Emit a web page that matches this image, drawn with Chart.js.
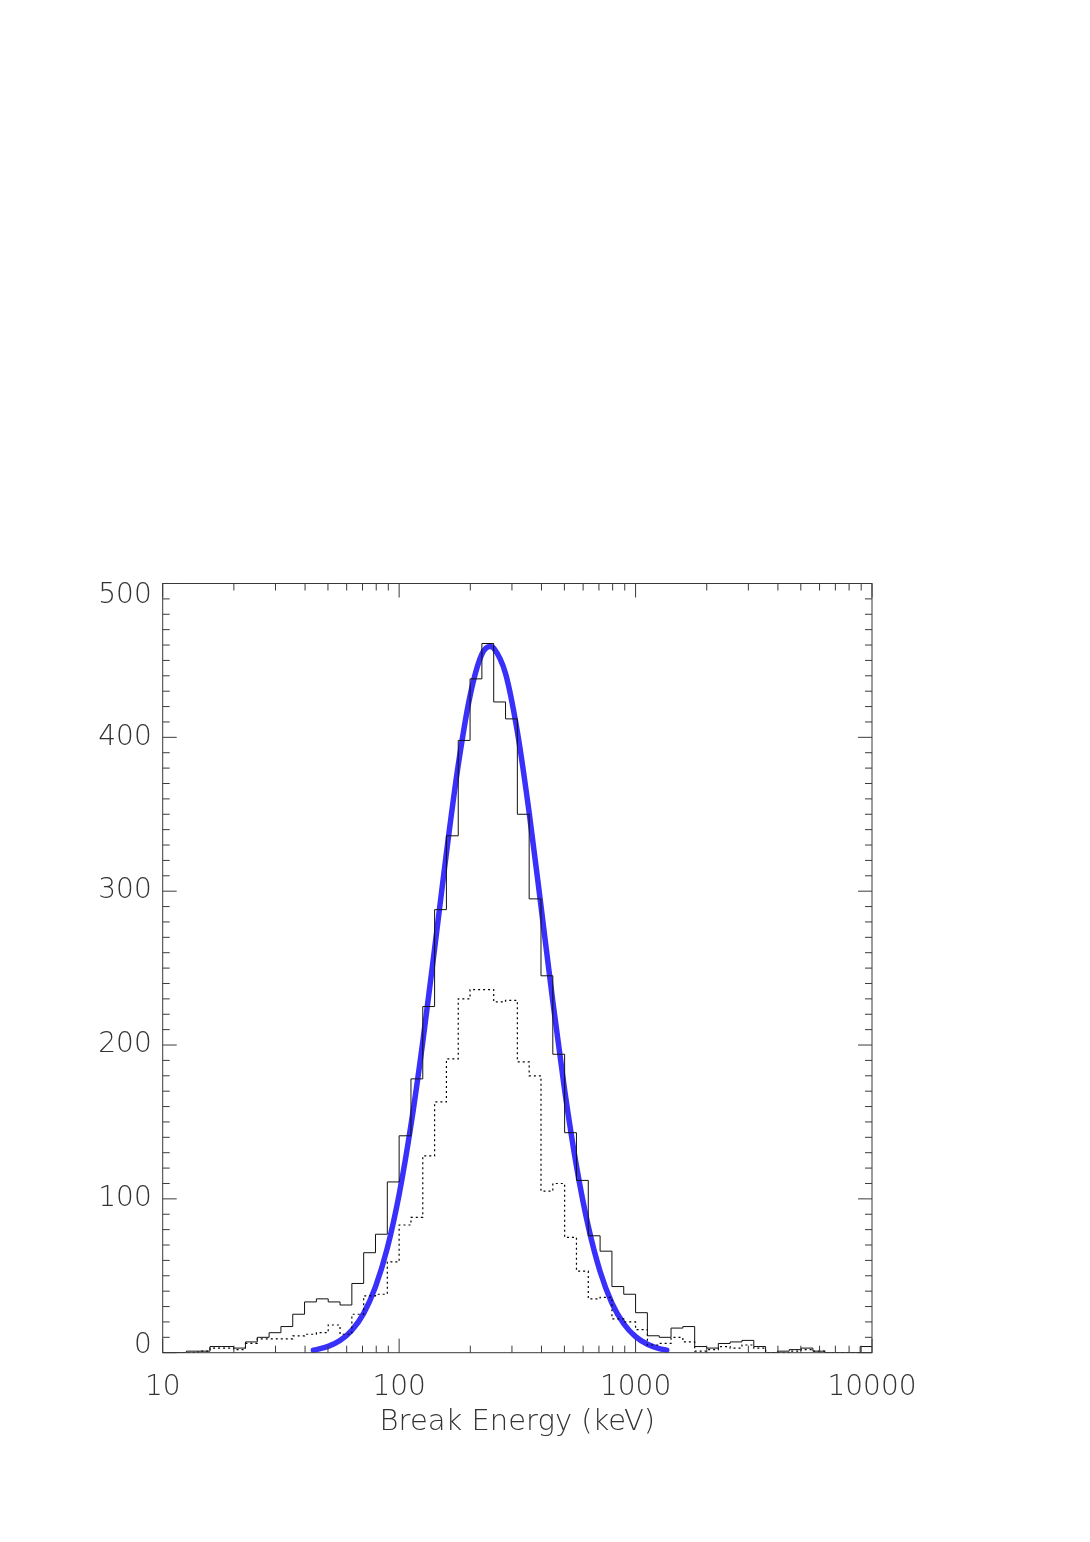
<!DOCTYPE html>
<html>
<head>
<meta charset="utf-8">
<script src="https://cdn.jsdelivr.net/npm/chart.js@4.4.1/dist/chart.umd.min.js"></script>
<style>
  html, body { margin: 0; padding: 0; background: #ffffff; }
  #wrap { width: 1090px; height: 1542px; position: relative; }
</style>
</head>
<body>
<div id="wrap"><canvas id="c" width="1090" height="1542"></canvas></div>
<script>
// ---- data ----
// histogram bins: 20 per decade, from 10 keV to 10000 keV (60 bins)
const binLogStart = 1;      // log10(10 keV)
const binLogWidth = 0.05;   // bin width in log10
const solidCounts = [0,0,1,1,4,4,3,7,10,13, 17,25,33,35,33,31,45,65,77,111,
                     141,178,225,288,336,398,438,461,423,412, 350,295,245,194,143,112,76,66,43,38,
                     26,11,10,16,17,4,3,6,7,8, 4,0,1,2,3,1,0,0,0,4];
const dottedCounts = [0,0,0,1,3,3,2,6,9,9, 9,11,12,13,18,12,25,37,38,59,
                      83,88,128,163,191,230,236,236,228,229, 189,180,105,110,75,53,35,36,22,20,
                      15,5,6,10,7,1,2,4,3,5, 3,0,0,1,2,1,0,0,0,0];
// fitted curve (blue)
const curveKeV = [43.4,50.1,56.2,63.1,70.8,79.4,89.1,100,112.2,125.9,141.3,158.5,177.8,199.5,223.9,
                  243.2,251.2,281.8,316.2,354.8,398.1,446.7,501.2,562.3,631.0,707.9,794.3,891.3,1000,1122,1259,1355];
const curveCounts = [1.6,4.1,7.9,14.6,25.6,42.8,68.0,102.9,147.9,202.1,262.8,324.9,381.9,427.0,454.1,
                     459,458,441.5,403.7,351.0,290.3,228.3,170.7,121.4,82.1,52.8,32.3,18.8,10.4,5.5,2.7,1.7];
// axes
const xDecades = [10, 100, 1000, 10000];
const xMinorMult = [2,3,4,5,6,7,8,9];
const yMin = 0, yMax = 500, yMinorStep = 10, yMajorStep = 100;
const xTitle = 'Break Energy (keV)';

// ---- build step series from bins ----
function stepPoints(counts) {
  const pts = counts.map((c, k) => ({ x: Math.pow(10, binLogStart + k * binLogWidth), y: c }));
  pts.push({ x: Math.pow(10, binLogStart + counts.length * binLogWidth), y: counts[counts.length - 1] });
  return pts;
}
const xTickValues = [];
xDecades.forEach((d, i) => {
  xTickValues.push(d);
  if (i < xDecades.length - 1) xMinorMult.forEach(m => xTickValues.push(d * m));
});

const FONT = 'DejaVu Sans';
const TEXT = '#333333';
const AX = '#3a3a3a';

const frame = {
  id: 'frame',
  afterDatasetsDraw(chart) {
    const { ctx, chartArea: { left, right, top, bottom }, scales: { x, y } } = chart;
    ctx.save();
    ctx.strokeStyle = AX;
    ctx.lineWidth = 1;
    ctx.strokeRect(left, top, right - left, bottom - top);
    ctx.beginPath();
    y.ticks.forEach(t => {
      const py = y.getPixelForValue(t.value);
      const len = (t.value % yMajorStep === 0) ? 14 : 7;
      ctx.moveTo(left, py); ctx.lineTo(left + len, py);
      ctx.moveTo(right, py); ctx.lineTo(right - len, py);
    });
    x.ticks.forEach(t => {
      const px = x.getPixelForValue(t.value);
      const len = xDecades.includes(t.value) ? 14 : 7;
      ctx.moveTo(px, bottom); ctx.lineTo(px, bottom - len);
      ctx.moveTo(px, top); ctx.lineTo(px, top + len);
    });
    ctx.stroke();
    // y labels
    ctx.fillStyle = TEXT;
    ctx.font = '200 28px "' + FONT + '"';
    ctx.textAlign = 'right';
    ctx.textBaseline = 'middle';
    y.ticks.forEach(t => {
      if (t.value % yMajorStep !== 0) return;
      let py = y.getPixelForValue(t.value);
      if (t.value === yMax) py += 12;
      if (t.value === yMin) py -= 7;
      ctx.fillText(String(t.value), left - 11, py);
    });
    ctx.restore();
  }
};

new Chart(document.getElementById('c'), {
  type: 'line',
  data: {
    datasets: [
      {
        label: 'all',
        data: stepPoints(solidCounts),
        stepped: 'before',
        borderColor: '#111111',
        borderWidth: 1,
        pointRadius: 0,
        fill: false,
        order: 0
      },
      {
        label: 'subset',
        data: stepPoints(dottedCounts),
        stepped: 'before',
        borderColor: '#000000',
        borderWidth: 1.2,
        borderDash: [2, 3],
        pointRadius: 0,
        fill: false,
        order: 1
      },
      {
        label: 'fit',
        data: curveKeV.map((e, i) => ({ x: e, y: curveCounts[i] })),
        borderColor: 'rgb(58,48,252)',
        borderWidth: 5.5,
        borderCapStyle: 'round',
        cubicInterpolationMode: 'monotone',
        pointRadius: 0,
        fill: false,
        order: 2
      }
    ]
  },
  options: {
    responsive: false,
    animation: false,
    devicePixelRatio: 1,
    layout: { padding: { left: 0, right: 218, top: 583.5, bottom: 0 } },
    plugins: { legend: { display: false }, tooltip: { enabled: false } },
    scales: {
      x: {
        type: 'logarithmic',
        position: 'bottom',
        min: 10,
        max: 10000,
        afterBuildTicks: s => { s.ticks = xTickValues.map(v => ({ value: v })); },
        afterFit: s => { s.height = 1542 - 1352.7; },
        grid: { display: false, drawTicks: false },
        border: { display: false },
        ticks: {
          autoSkip: false,
          maxRotation: 0,
          minRotation: 0,
          padding: 18,
          color: TEXT,
          font: { family: FONT, size: 28, weight: '200' },
          callback: v => xDecades.includes(v) ? String(v) : ''
        },
        title: {
          display: true,
          text: xTitle,
          color: TEXT,
          font: { family: FONT, size: 29, weight: '200' },
          padding: { top: 0, bottom: 102 }
        }
      },
      y: {
        type: 'linear',
        min: yMin,
        max: yMax,
        afterFit: s => { s.width = 162.7; },
        grid: { display: false, drawTicks: false },
        border: { display: false },
        ticks: { stepSize: yMinorStep, display: false }
      }
    }
  },
  plugins: [frame]
});
</script>
</body>
</html>
